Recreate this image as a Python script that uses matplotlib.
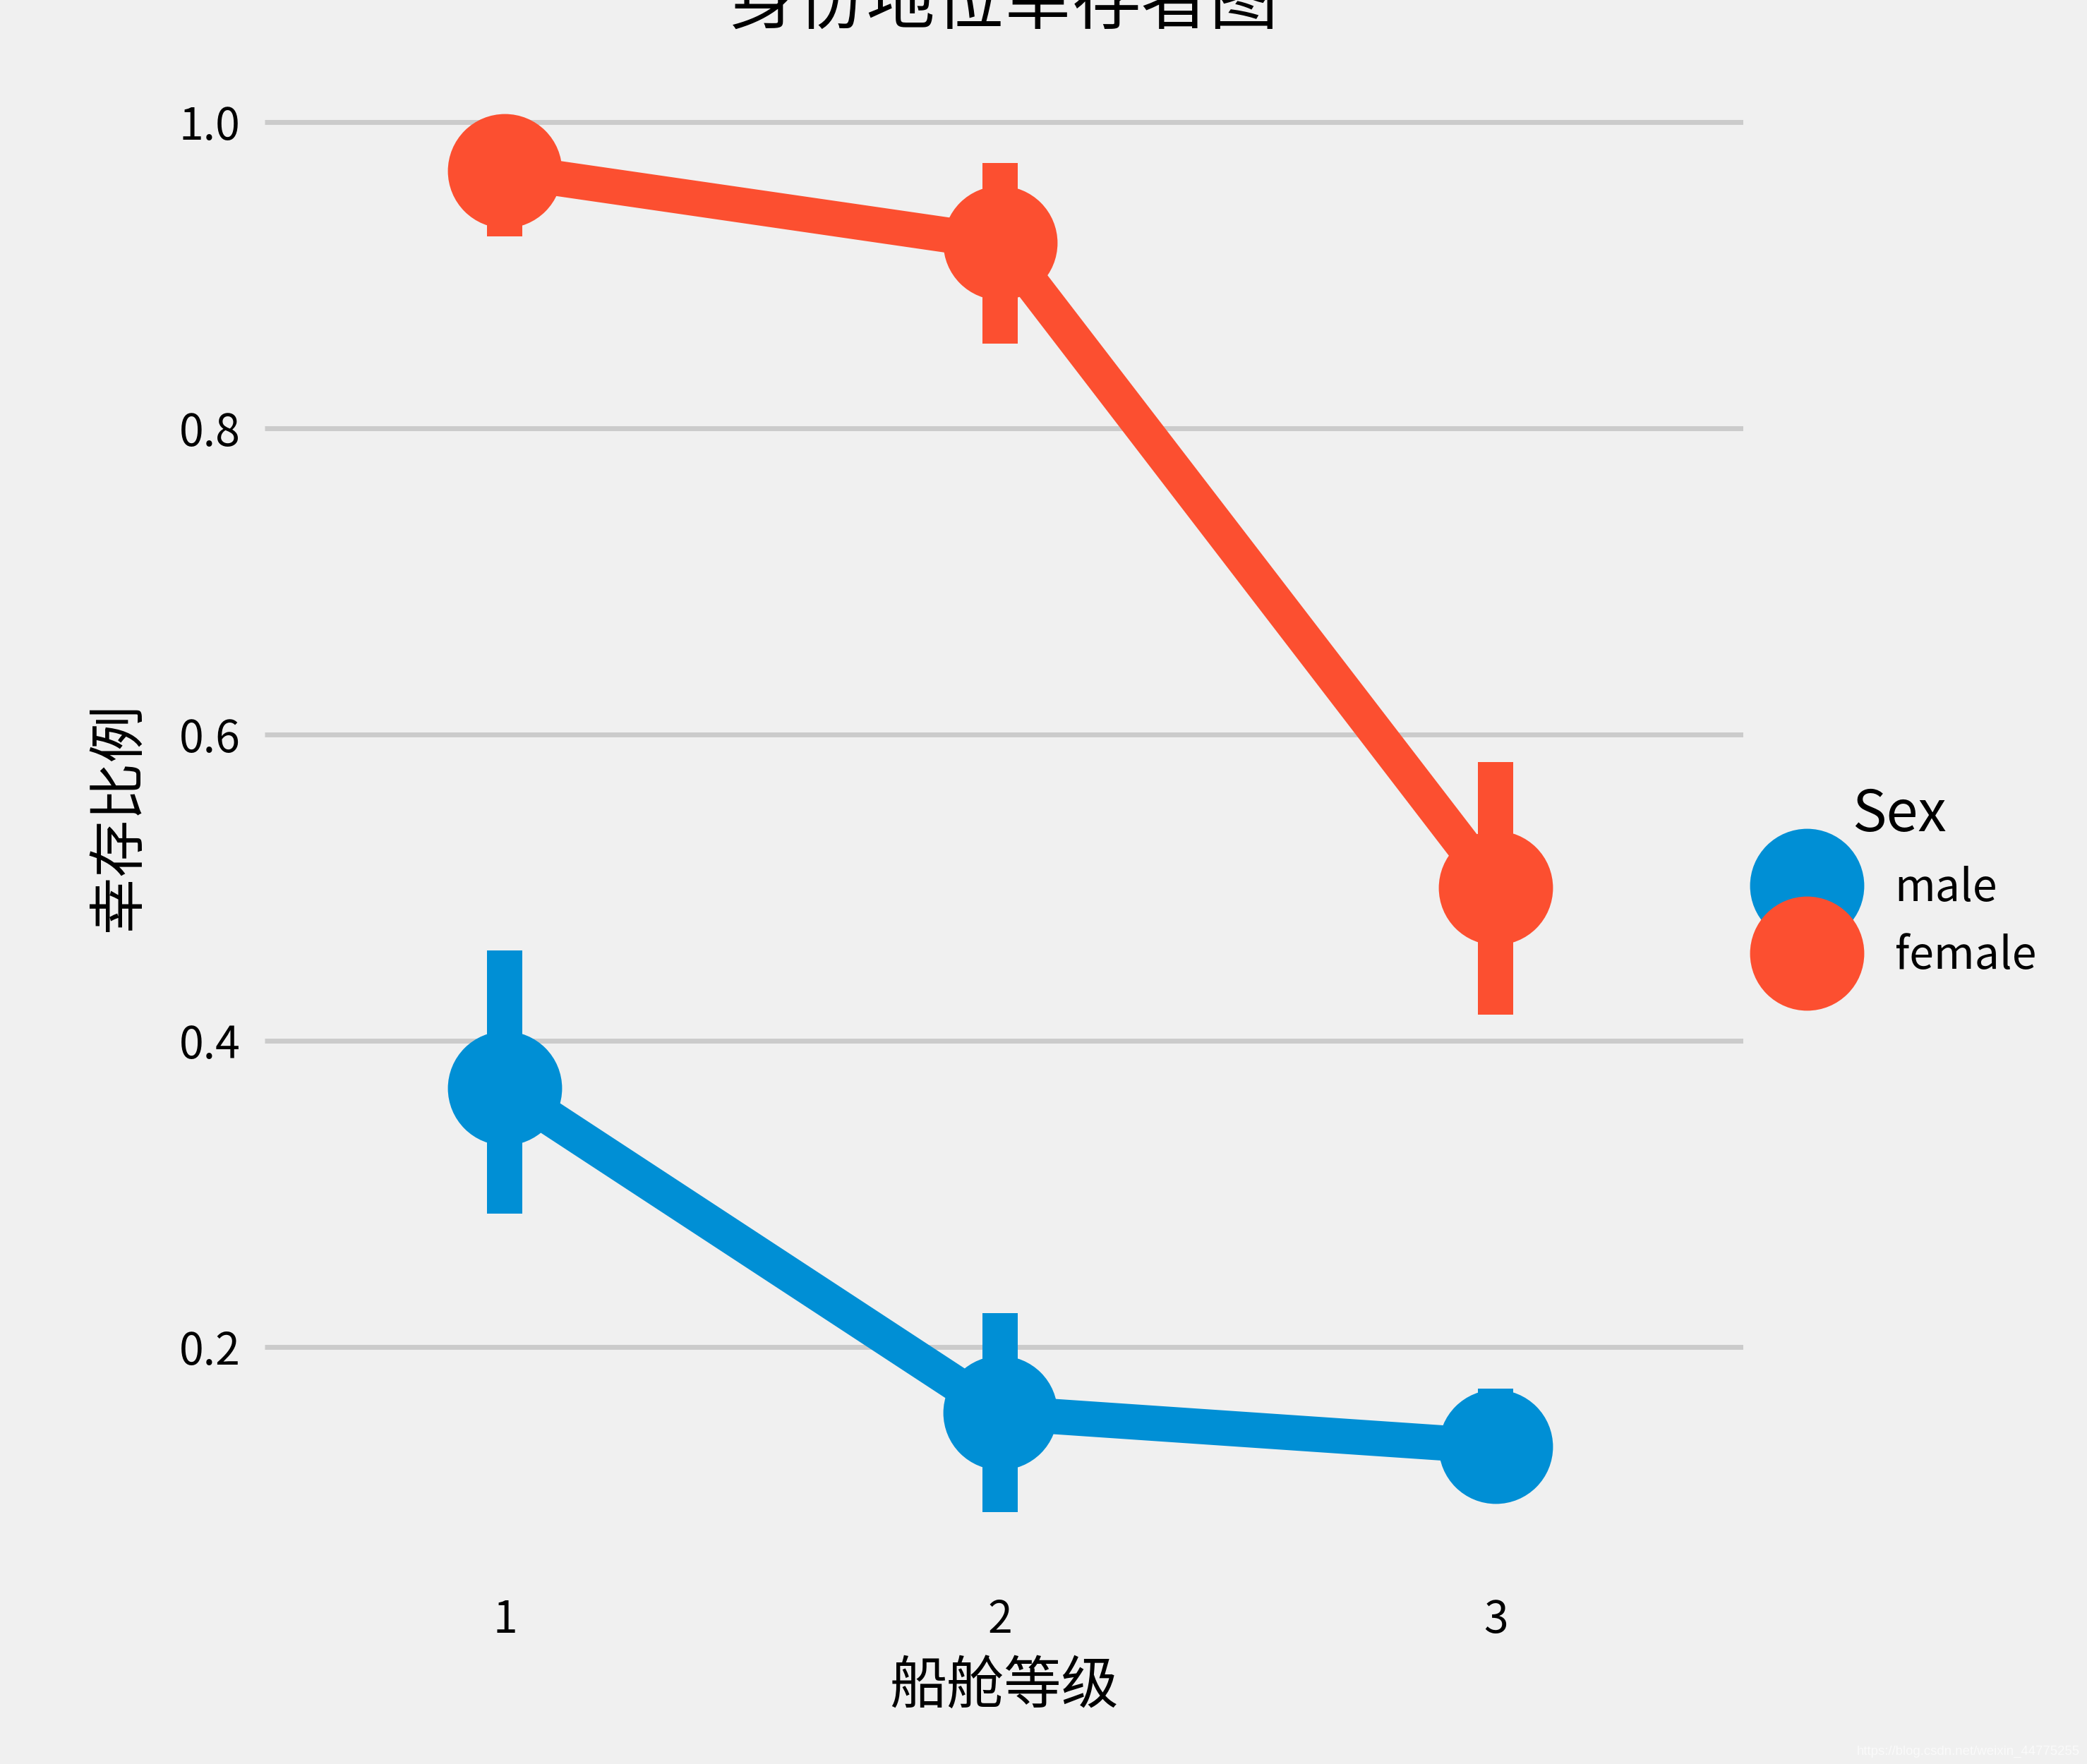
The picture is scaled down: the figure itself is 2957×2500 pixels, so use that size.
"""Survival rate by cabin class and sex (seaborn-style point plot, fivethirtyeight look)."""

import matplotlib
matplotlib.use("Agg")
import matplotlib.pyplot as plt
from matplotlib.lines import Line2D

plt.style.use("fivethirtyeight")
plt.rcParams['font.family'] = ['Noto Sans CJK SC', 'DejaVu Sans']
plt.rcParams['axes.unicode_minus'] = False

# data
pclass = ["1", "2", "3"]
sexes = ["male", "female"]
male_rate = [0.369, 0.157, 0.135]
male_lo = [0.287, 0.092, 0.100]
male_hi = [0.459, 0.222, 0.173]
female_rate = [0.968, 0.921, 0.500]
female_lo = [0.925, 0.855, 0.417]
female_hi = [1.000, 0.973, 0.582]
yticks = [0.2, 0.4, 0.6, 0.8, 1.0]

colors = {"male": "#008fd5", "female": "#fc4f30"}
series = {
    "male": (male_rate, male_lo, male_hi),
    "female": (female_rate, female_lo, female_hi),
}

fig = plt.figure(figsize=(2957 / 500, 2500 / 500), dpi=500, facecolor="#f0f0f0")
ax = fig.add_axes([375 / 2957, 1 - 2242 / 2500, 2095 / 2957, 2168 / 2500])
ax.set_facecolor("#f0f0f0")

xs = list(range(len(pclass)))
lw = 7.2
for sex in sexes:
    rate, lo, hi = series[sex]
    c = colors[sex]
    # confidence interval bars
    for x, a, b in zip(xs, lo, hi):
        ax.plot([x, x], [a, b], color=c, lw=lw, solid_capstyle="butt", zorder=2)
    ax.plot(xs, rate, color=c, lw=lw, marker="o", markersize=23.3,
            markeredgewidth=0, solid_capstyle="butt", zorder=3)

ax.set_xlim(-0.485, 2.5)
ax.set_ylim(0.0466, 1.0454)
ax.set_xticks(xs)
ax.set_xticklabels(pclass)
ax.set_yticks(yticks)
ax.set_yticklabels([f"{v:.1f}" for v in yticks])
ax.tick_params(axis="y", length=0, labelsize=9, pad=5)
ax.tick_params(axis="x", length=0, labelsize=9, pad=3.1)
ax.xaxis.grid(False)
ax.yaxis.grid(True, color="#cbcbcb", lw=1.0)
for s in ax.spines.values():
    s.set_visible(False)

ax.set_title("身份地位幸存者图", fontsize=14, pad=6)
ax.set_xlabel("船舱等级", fontsize=11.7, labelpad=3.1)
ax.set_ylabel("幸存比例", fontsize=11.7)
ax.yaxis.set_label_coords(-0.0788, 0.5)

handles = [Line2D([], [], ls="", marker="o", markersize=23.3, markeredgewidth=0,
                  color=colors[s]) for s in sexes]
leg = fig.legend(handles, sexes, title="Sex", loc="center left",
                 bbox_to_anchor=(2441 / 2957, 0.5), frameon=False,
                 fontsize=9, title_fontsize=11.7, handlelength=2,
                 handletextpad=1.0, labelspacing=0.5)

fig.text(2947 / 2957, 13 / 2500, "https://blog.csdn.net/weixin_44775255",
         ha="right", va="baseline", fontsize=2.7, color="#fafafa",
         family=["Liberation Sans", "DejaVu Sans"])

fig.savefig("out.png", dpi=500, facecolor=fig.get_facecolor())
